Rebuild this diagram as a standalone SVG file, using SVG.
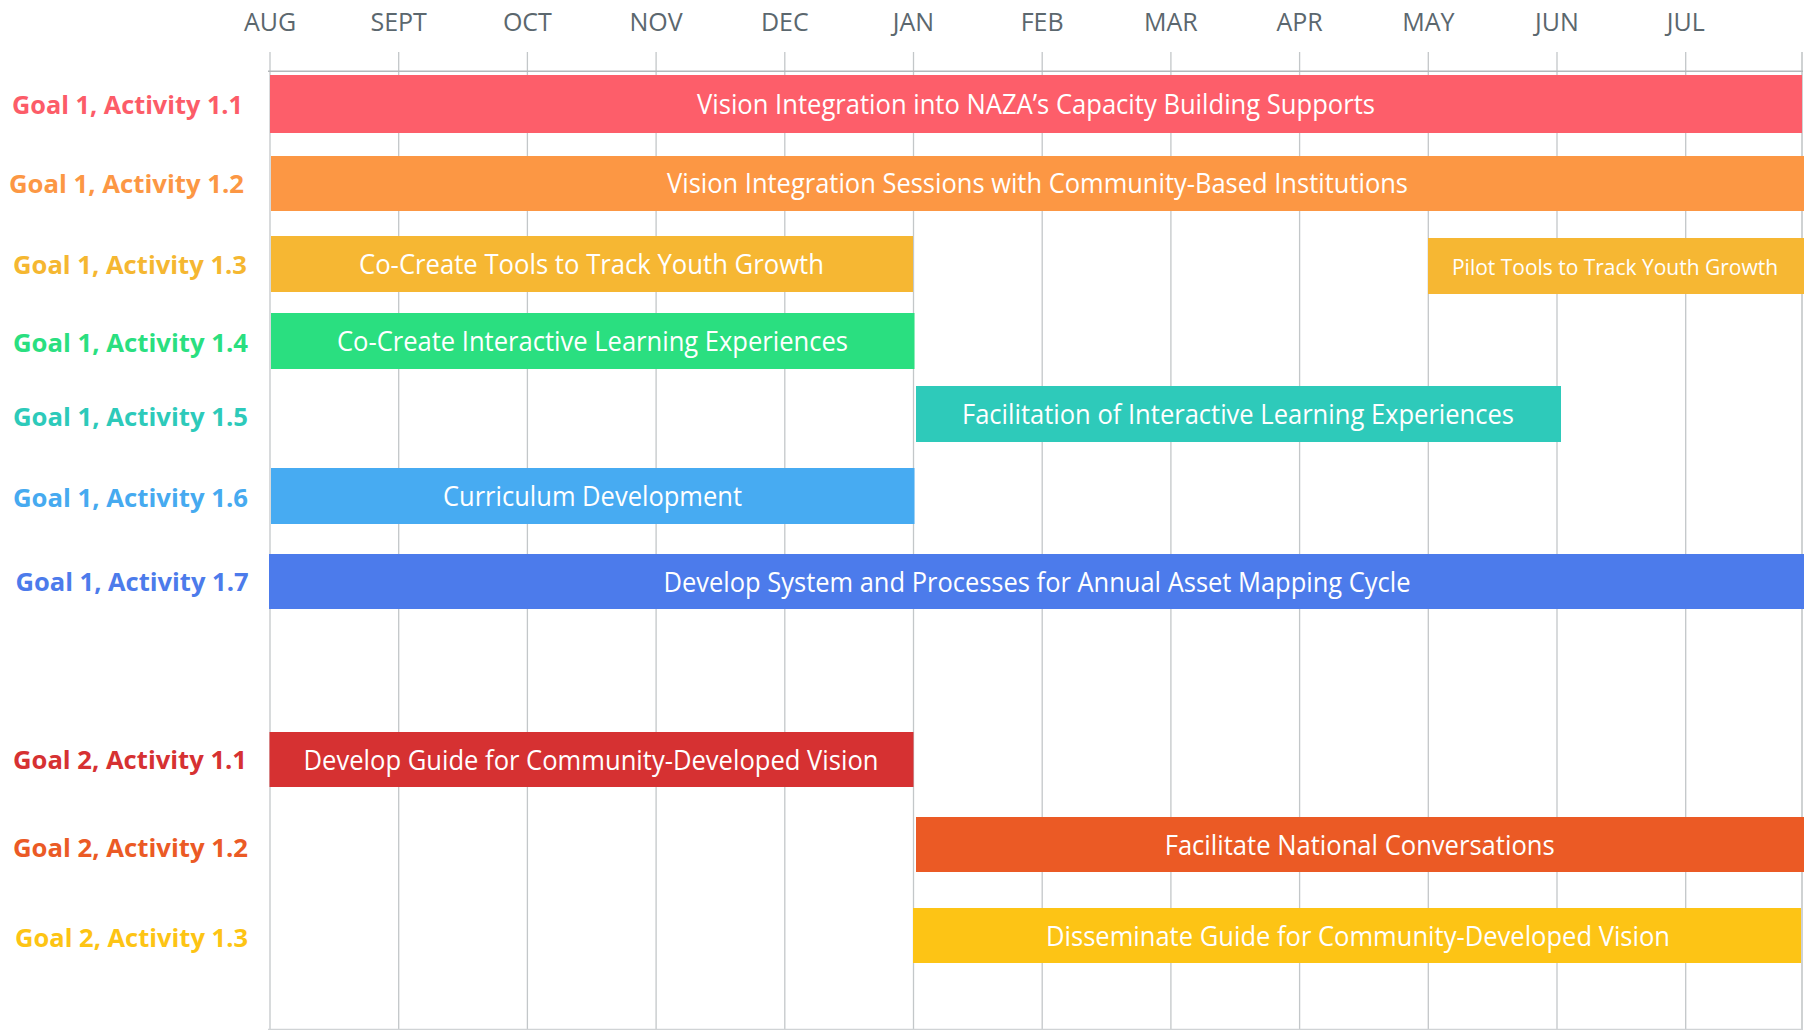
<svg xmlns="http://www.w3.org/2000/svg" width="1810" height="1030" viewBox="0 0 1810 1030">
  <style>
    .month { font-family: "Open Sans", "Noto Sans", "Liberation Sans", sans-serif; font-size: 25px; fill: #5b676e; text-anchor: middle; }
    .label { font-family: "Open Sans", "Noto Sans", "Liberation Sans", sans-serif; font-size: 25.5px; font-weight: 700; }
    .bartext { font-family: "Open Sans", "Noto Sans", "Liberation Sans", sans-serif; font-size: 26.5px; fill: #ffffff; text-anchor: middle; }
    .small { font-size: 22px; }
    .grid line { stroke: #c3c7c9; stroke-width: 1.3; }
  </style>
  <rect width="1810" height="1030" fill="#ffffff"/>

  <!-- month axis -->
  <g id="months">
    <text class="month" x="270" y="31">AUG</text>
    <text class="month" x="398.7" y="31">SEPT</text>
    <text class="month" x="527.4" y="31">OCT</text>
    <text class="month" x="656.1" y="31">NOV</text>
    <text class="month" x="784.8" y="31">DEC</text>
    <text class="month" x="913.5" y="31">JAN</text>
    <text class="month" x="1042.2" y="31">FEB</text>
    <text class="month" x="1170.9" y="31">MAR</text>
    <text class="month" x="1299.6" y="31">APR</text>
    <text class="month" x="1428.3" y="31">MAY</text>
    <text class="month" x="1557" y="31">JUN</text>
    <text class="month" x="1685.7" y="31">JUL</text>
  </g>

  <!-- month grid -->
  <g id="connectors" class="grid">
    <line x1="270" y1="52" x2="270" y2="1030"/>
    <line x1="398.7" y1="52" x2="398.7" y2="1030"/>
    <line x1="527.4" y1="52" x2="527.4" y2="1030"/>
    <line x1="656.1" y1="52" x2="656.1" y2="1030"/>
    <line x1="784.8" y1="52" x2="784.8" y2="1030"/>
    <line x1="913.5" y1="52" x2="913.5" y2="1030"/>
    <line x1="1042.2" y1="52" x2="1042.2" y2="1030"/>
    <line x1="1170.9" y1="52" x2="1170.9" y2="1030"/>
    <line x1="1299.6" y1="52" x2="1299.6" y2="1030"/>
    <line x1="1428.3" y1="52" x2="1428.3" y2="1030"/>
    <line x1="1557" y1="52" x2="1557" y2="1030"/>
    <line x1="1685.7" y1="52" x2="1685.7" y2="1030"/>
    <line x1="1802" y1="52" x2="1802" y2="1030" style="stroke:#cfd2d3;stroke-width:2"/>
    <line x1="268" y1="71.3" x2="1803" y2="71.3" style="stroke:#b4b8ba;stroke-width:1.6"/>
    <line x1="268" y1="1029.3" x2="1803" y2="1029.3" style="stroke:#d0d3d5;stroke-width:1.2"/>
  </g>

  <!-- Goal 1 -->
  <g id="g1-a1-1">
    <text class="label" x="12" y="114.3" fill="#fc5c68" textLength="231" lengthAdjust="spacingAndGlyphs">Goal 1, Activity 1.1</text>
    <rect x="270" y="75" width="1532" height="58" fill="#fd5e6a"/>
    <text class="bartext" x="1036" y="114.3" textLength="678" lengthAdjust="spacingAndGlyphs">Vision Integration into NAZA’s Capacity Building Supports</text>
  </g>
  <g id="g1-a1-2">
    <text class="label" x="9" y="192.7" fill="#fc9744" textLength="235" lengthAdjust="spacingAndGlyphs">Goal 1, Activity 1.2</text>
    <rect x="271" y="156" width="1533" height="55" fill="#fc9744"/>
    <text class="bartext" x="1037.5" y="193.3" textLength="741" lengthAdjust="spacingAndGlyphs">Vision Integration Sessions with Community-Based Institutions</text>
  </g>
  <g id="g1-a1-3">
    <text class="label" x="13" y="273.5" fill="#f5b731" textLength="234" lengthAdjust="spacingAndGlyphs">Goal 1, Activity 1.3</text>
    <rect x="271" y="236" width="642" height="56" fill="#f6b733"/>
    <text class="bartext" x="591.5" y="274" textLength="465" lengthAdjust="spacingAndGlyphs">Co-Create Tools to Track Youth Growth</text>
    <rect x="1428" y="238" width="376" height="56" fill="#f6b733"/>
    <text class="bartext small" x="1615" y="275" textLength="326" lengthAdjust="spacingAndGlyphs">Pilot Tools to Track Youth Growth</text>
  </g>
  <g id="g1-a1-4">
    <text class="label" x="13" y="351.5" fill="#2adf80" textLength="235" lengthAdjust="spacingAndGlyphs">Goal 1, Activity 1.4</text>
    <rect x="271" y="313" width="643.5" height="56" fill="#2adf80"/>
    <text class="bartext" x="592.5" y="351" textLength="511" lengthAdjust="spacingAndGlyphs">Co-Create Interactive Learning Experiences</text>
  </g>
  <g id="g1-a1-5">
    <text class="label" x="13" y="425.5" fill="#2dcaba" textLength="235" lengthAdjust="spacingAndGlyphs">Goal 1, Activity 1.5</text>
    <rect x="916" y="386" width="645" height="56" fill="#2ecaba"/>
    <text class="bartext" x="1238" y="424" textLength="552" lengthAdjust="spacingAndGlyphs">Facilitation of Interactive Learning Experiences</text>
  </g>
  <g id="g1-a1-6">
    <text class="label" x="13" y="506.5" fill="#46aaf0" textLength="235" lengthAdjust="spacingAndGlyphs">Goal 1, Activity 1.6</text>
    <rect x="271" y="468" width="643.5" height="56" fill="#47abf2"/>
    <text class="bartext" x="592.5" y="506" textLength="299" lengthAdjust="spacingAndGlyphs">Curriculum Development</text>
  </g>
  <g id="g1-a1-7">
    <text class="label" x="15.5" y="591" fill="#4c7beb" textLength="233" lengthAdjust="spacingAndGlyphs">Goal 1, Activity 1.7</text>
    <rect x="269" y="554" width="1535" height="55" fill="#4c7beb"/>
    <text class="bartext" x="1037" y="591.5" textLength="747" lengthAdjust="spacingAndGlyphs">Develop System and Processes for Annual Asset Mapping Cycle</text>
  </g>

  <!-- Goal 2 -->
  <g id="g2-a1-1">
    <text class="label" x="13" y="769.3" fill="#d63132" textLength="234" lengthAdjust="spacingAndGlyphs">Goal 2, Activity 1.1</text>
    <rect x="269.5" y="732" width="644" height="55" fill="#d63132"/>
    <text class="bartext" x="591" y="769.5" textLength="575" lengthAdjust="spacingAndGlyphs">Develop Guide for Community-Developed Vision</text>
  </g>
  <g id="g2-a1-2">
    <text class="label" x="13" y="856.7" fill="#eb5a25" textLength="235" lengthAdjust="spacingAndGlyphs">Goal 2, Activity 1.2</text>
    <rect x="916" y="817" width="888" height="55" fill="#eb5a25"/>
    <text class="bartext" x="1359.7" y="854.5" textLength="390" lengthAdjust="spacingAndGlyphs">Facilitate National Conversations</text>
  </g>
  <g id="g2-a1-3">
    <text class="label" x="15" y="946.7" fill="#fdc414" textLength="233" lengthAdjust="spacingAndGlyphs">Goal 2, Activity 1.3</text>
    <rect x="913" y="908" width="888" height="55" fill="#fdc415"/>
    <text class="bartext" x="1358" y="945.5" textLength="624" lengthAdjust="spacingAndGlyphs">Disseminate Guide for Community-Developed Vision</text>
  </g>
</svg>
